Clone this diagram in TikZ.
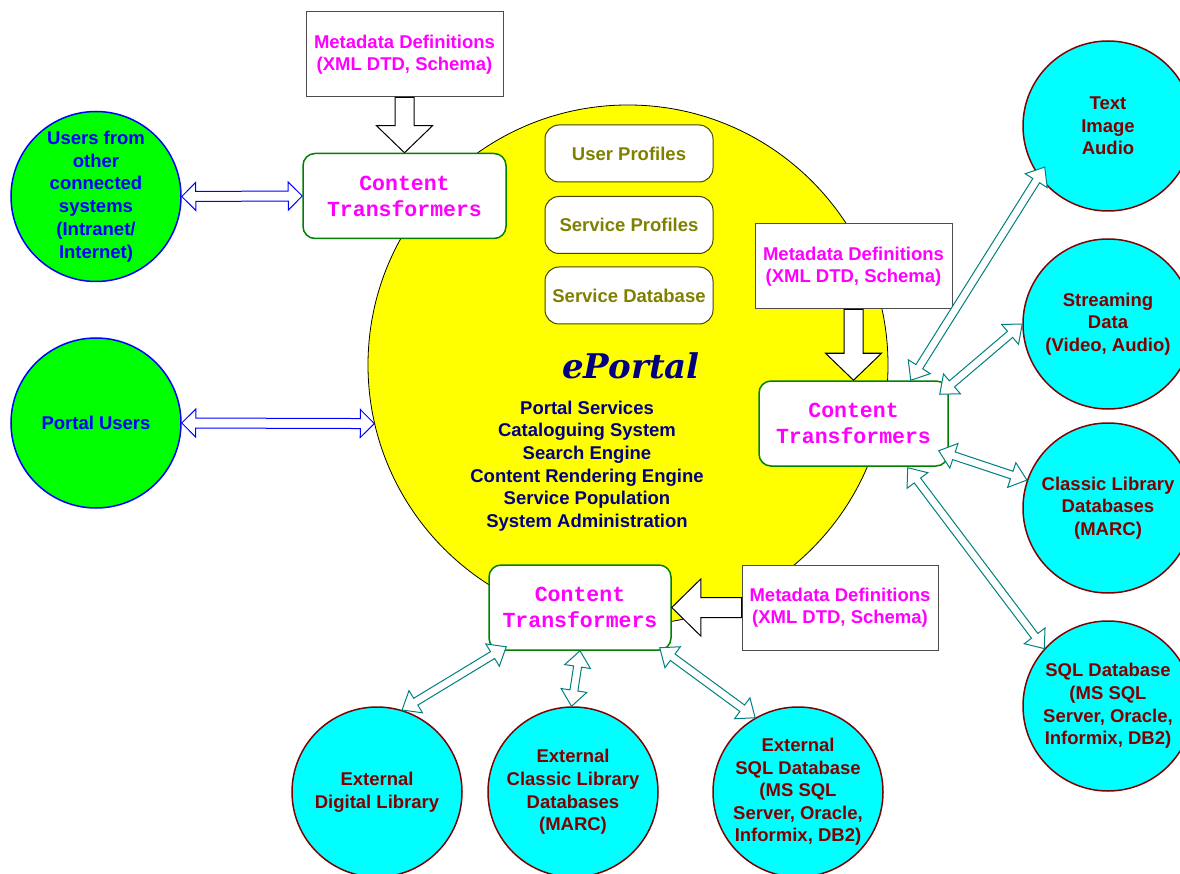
\documentclass[tikz,border=0pt]{standalone}
\usepackage{fontspec}
\setmainfont{Liberation Sans}
\setsansfont{Liberation Sans}
\setmonofont{Liberation Mono}
\newfontfamily\eportalfont{DejaVu Serif}
\usetikzlibrary{calc}
\definecolor{mag}{RGB}{255,0,255}
\definecolor{navyc}{RGB}{0,0,128}
\definecolor{olivec}{RGB}{128,128,0}
\definecolor{darkredc}{RGB}{128,0,0}
\definecolor{cyanc}{RGB}{0,255,255}
\definecolor{greenc}{RGB}{0,255,0}
\definecolor{ctgreen}{RGB}{0,128,0}
\definecolor{tealc}{RGB}{0,128,128}
\definecolor{bluec}{RGB}{0,0,255}
\definecolor{yellowc}{RGB}{255,255,0}
% double hollow arrow: #2 from, #3 to, #4 shaft half width, #5 head half width, #6 head length
\newcommand\dblarrow[6][]{%
 \draw[#1] let \p1=($(#3)-(#2)$), \n1={atan2(\y1,\x1)} in
  (#2)
  -- ($(#2)+({\n1}:#6)+({\n1+90}:#5)$)
  -- ($(#2)+({\n1}:#6)+({\n1+90}:#4)$)
  -- ($(#3)+({\n1+180}:#6)+({\n1+90}:#4)$)
  -- ($(#3)+({\n1+180}:#6)+({\n1+90}:#5)$)
  -- (#3)
  -- ($(#3)+({\n1+180}:#6)+({\n1-90}:#5)$)
  -- ($(#3)+({\n1+180}:#6)+({\n1-90}:#4)$)
  -- ($(#2)+({\n1}:#6)+({\n1-90}:#4)$)
  -- ($(#2)+({\n1}:#6)+({\n1-90}:#5)$)
  -- cycle;}
% single hollow arrow: #2 tail, #3 tip
\newcommand\sglarrow[6][]{%
 \draw[#1] let \p1=($(#3)-(#2)$), \n1={atan2(\y1,\x1)} in
  ($(#2)+({\n1+90}:#4)$)
  -- ($(#3)+({\n1+180}:#6)+({\n1+90}:#4)$)
  -- ($(#3)+({\n1+180}:#6)+({\n1+90}:#5)$)
  -- (#3)
  -- ($(#3)+({\n1+180}:#6)+({\n1-90}:#5)$)
  -- ($(#3)+({\n1+180}:#6)+({\n1-90}:#4)$)
  -- ($(#2)+({\n1-90}:#4)$)
  -- cycle;}
\tikzset{
 txt/.style={font=\fontsize{18.5}{22.6}\selectfont\bfseries, align=center, inner sep=0pt},
 ctbox/.style={draw=ctgreen, line width=1.5pt, fill=white, rounded corners=12pt,
   minimum height=85pt, text=mag, align=center,
   font={\ttfamily\bfseries\fontsize{21.5}{26}\selectfont}},
 metabox/.style={draw=black!70, line width=1pt, fill=white, minimum height=85pt,
   text=mag, align=center, font=\fontsize{18.5}{22.3}\selectfont\bfseries},
 profbox/.style={draw=olivec!55!black, line width=1pt, fill=white, rounded corners=14pt,
   minimum width=168pt, minimum height=57pt, text=olivec,
   font=\fontsize{18.5}{22}\selectfont\bfseries},
 gcirc/.style={circle, draw=bluec, line width=1.5pt, fill=greenc, minimum size=170pt,
   inner sep=0pt, text=bluec, align=center, font=\fontsize{18.5}{22.8}\selectfont\bfseries},
 ccirc/.style={circle, draw=darkredc, line width=1.5pt, fill=cyanc, minimum size=170pt,
   inner sep=0pt, text=darkredc, align=center, font=\fontsize{18.5}{22.6}\selectfont\bfseries},
 bluearr/.style={draw=bluec, fill=white, line width=1pt, line join=miter},
 tealarr/.style={draw=tealc, fill=white, line width=1pt, line join=miter},
 metaarr/.style={draw=black, fill=white, line width=1pt, line join=miter}
}
\begin{document}
\begin{tikzpicture}[x=1pt, y=-1pt]
\fill[white] (0,0) rectangle (1180,874);
\useasboundingbox (0,0) rectangle (1180,874);
\clip (0,0) rectangle (1180,874);

% central portal
\node[circle, draw=black, line width=0.8pt, fill=yellowc, minimum size=520pt, inner sep=0pt] (ep) at (628,365) {};
\node[profbox] (up) at (629,153.5) {User Profiles};
\node[profbox] (sp) at (629,225) {Service Profiles};
\node[profbox] (sdb) at (629,295.5) {Service Database};
\node[font=\eportalfont\bfseries\itshape\fontsize{34}{40}\selectfont, text=navyc, anchor=base, inner sep=0pt] (title) at (631,378) {ePortal};
\node[txt, text=navyc] (svc) at (587,466) {Portal Services\\Cataloguing System\\Search Engine\\Content Rendering Engine\\Service Population\\System Administration};

% content transformers
\node[ctbox, minimum width=203pt] (ct1) at (404.5,196) {Content\\Transformers};
\node[ctbox, minimum width=189pt] (ct2) at (853.5,423.5) {Content\\Transformers};
\node[ctbox, minimum width=182pt] (ct3) at (580,607.5) {Content\\Transformers};

% metadata definitions
\node[metabox, minimum width=197pt] (md1) at (404.5,54.5) {Metadata Definitions\\(XML DTD, Schema)};
\node[metabox, minimum width=197pt] (md2) at (853.5,266.5) {Metadata Definitions\\(XML DTD, Schema)};
\node[metabox, minimum width=196pt] (md3) at (840,607.5) {Metadata Definitions\\(XML DTD, Schema)};

% user circles
\node[gcirc] (uoc) at (96,196.5) {Users from\\other\\connected\\systems\\(Intranet/\\Internet)};
\node[gcirc] (pu) at (96,423) {Portal Users};

% right circles
\node[ccirc] (tia) at (1108,126) {Text\\Image\\Audio};
\node[ccirc] (sd) at (1108,324) {Streaming\\Data\\(Video, Audio)};
\node[ccirc] (cl) at (1108,508) {Classic Library\\Databases\\(MARC)};
\node[ccirc] (sql) at (1108,706) {SQL Database\\(MS SQL\\Server, Oracle,\\Informix, DB2)};

% bottom circles
\node[ccirc] (edl) at (377,792) {External\\Digital Library};
\node[ccirc] (ecl) at (573,792) {External\\Classic Library\\Databases\\(MARC)};
\node[ccirc] (esql) at (798,792) {External\\SQL Database\\(MS SQL\\Server, Oracle,\\Informix, DB2)};

% metadata arrows
\sglarrow[metaarr]{md1.south}{ct1.north}{9.5pt}{28pt}{27pt}
\sglarrow[metaarr]{md2.south}{ct2.north}{9.5pt}{28pt}{27pt}
\sglarrow[metaarr]{md3.west}{ct3.east}{10pt}{28.5pt}{29pt}

% blue arrows
\dblarrow[bluearr]{uoc.east}{ct1.west}{5pt}{14pt}{14pt}
\dblarrow[bluearr]{pu.east}{ep.193}{5pt}{14pt}{14pt}

% teal arrows right
\coordinate (t1a) at ($(ct2.north east)+(-38,0)$);
\coordinate (t1b) at ($(tia.center)!0.88!(tia.213)$);
\dblarrow[tealarr]{t1a}{t1b}{4pt}{13pt}{16pt}
\coordinate (t2a) at ($(ct2.north east)+(-9,14)$);
\dblarrow[tealarr]{t2a}{sd.west}{4pt}{13pt}{16pt}
\coordinate (t3a) at ($(ct2.south east)+(-10,-16)$);
\dblarrow[tealarr]{t3a}{cl.161}{4pt}{13pt}{16pt}
\coordinate (t4a) at ($(ct2.south east)+(-41,1)$);
\dblarrow[tealarr]{t4a}{sql.138}{4pt}{13pt}{16pt}

% teal arrows bottom
\coordinate (b1a) at ($(ct3.south west)+(18,-4)$);
\dblarrow[tealarr]{b1a}{edl.73}{4pt}{13pt}{16pt}
\dblarrow[tealarr]{ct3.south}{ecl.91}{4pt}{13pt}{16pt}
\coordinate (b3a) at ($(ct3.south east)+(-12,-3)$);
\dblarrow[tealarr]{b3a}{esql.120}{4pt}{13pt}{16pt}
\end{tikzpicture}
\end{document}
